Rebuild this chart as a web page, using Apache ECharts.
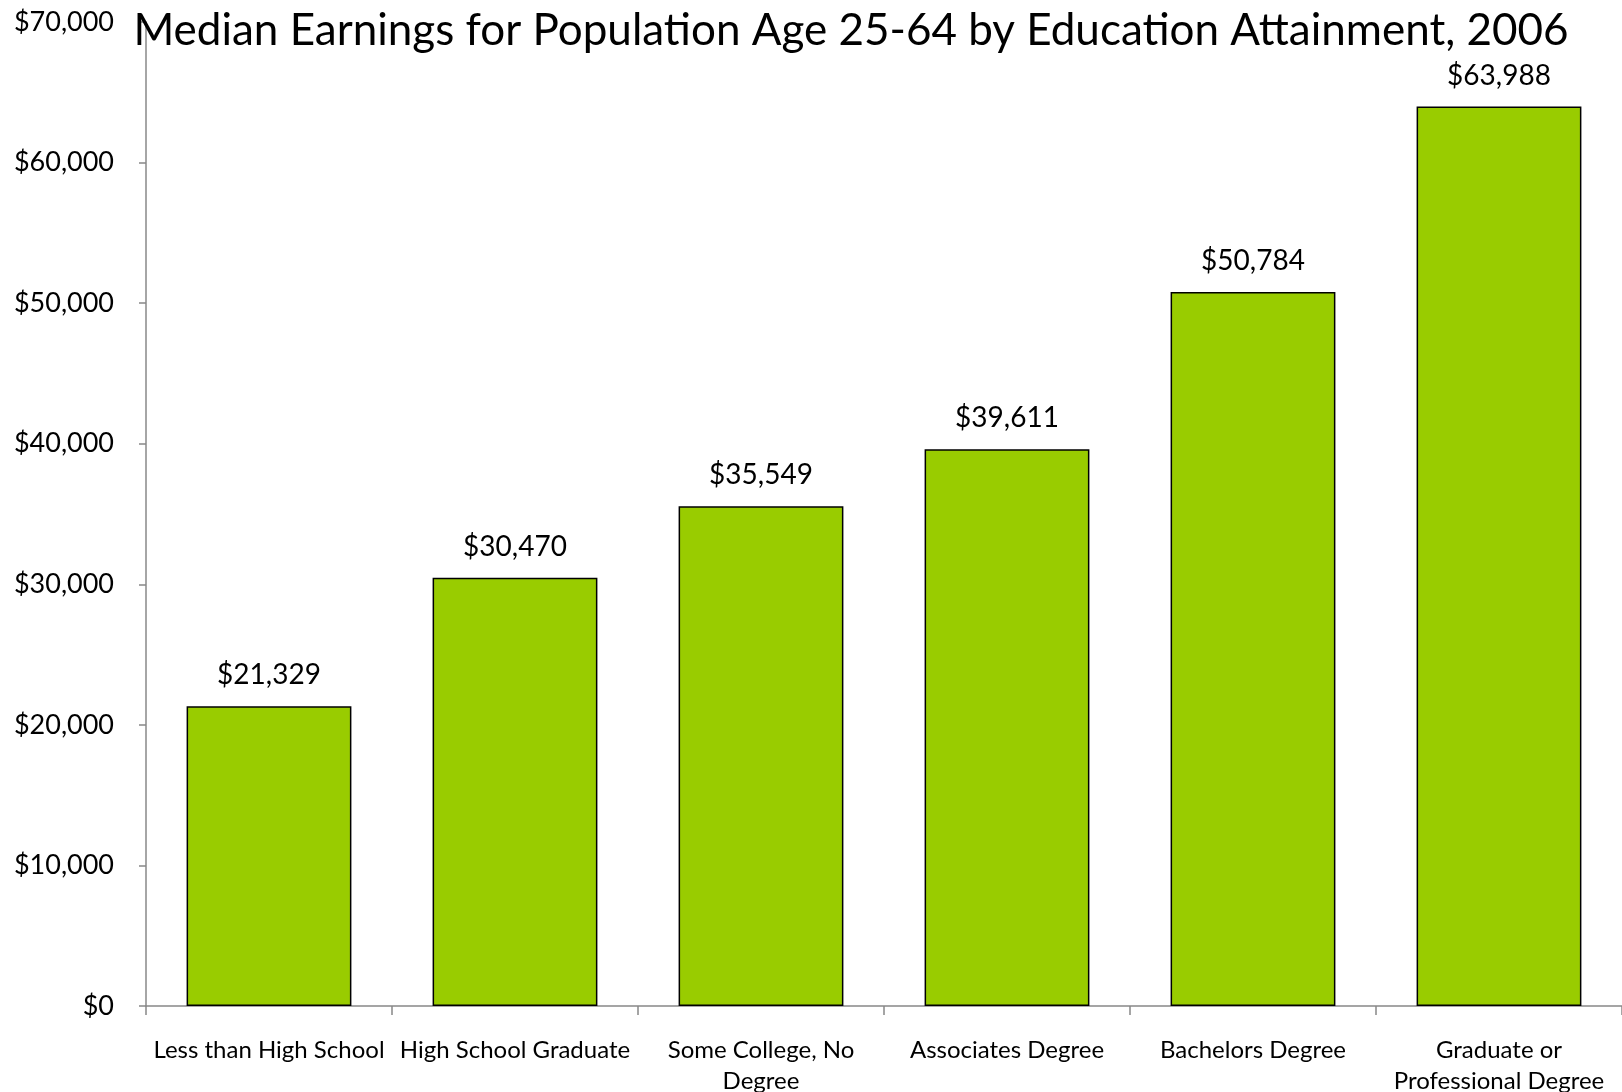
<!DOCTYPE html>
<html>
<head>
<meta charset="utf-8">
<script src="https://cdn.jsdelivr.net/npm/echarts@6/dist/echarts.min.js"></script>
<style>
html,body{margin:0;padding:0;background:#fff;}
#chart{width:1622px;height:1092px;}
</style>
</head>
<body>
<div id="chart"></div>
<script>
const titleText = 'Median Earnings for Population Age 25-64 by Education Attainment, 2006';
const categories = ['Less than High School', 'High School Graduate', 'Some College, No\nDegree', 'Associates Degree', 'Bachelors Degree', 'Graduate or\nProfessional Degree'];
const earnings = [21329, 30470, 35549, 39611, 50784, 63988];
const yTicks = [0, 10000, 20000, 30000, 40000, 50000, 60000, 70000];

const fmt = v => '$' + Number(v).toLocaleString('en-US');
const FONT = 'Lato, "Open Sans", sans-serif';

const chart = echarts.init(document.getElementById('chart'));
chart.setOption({
  animation: false,
  backgroundColor: '#ffffff',
  title: {
    text: titleText,
    left: 846,
    textAlign: 'center',
    top: 4,
    textStyle: { fontFamily: FONT, fontSize: 44, fontWeight: 'normal', color: '#000' }
  },
  grid: { left: 146, right: 0, top: 22, bottom: 86, containLabel: false, outerBoundsMode: 'none' },
  xAxis: {
    type: 'category',
    data: categories,
    axisLine: { lineStyle: { color: '#888888', width: 1.5 } },
    axisTick: { show: true, length: 9, lineStyle: { color: '#888888', width: 1.5 } },
    axisLabel: { fontFamily: FONT, fontSize: 24, color: '#000', margin: 29, lineHeight: 31, interval: 0 }
  },
  yAxis: {
    type: 'value',
    min: yTicks[0],
    max: yTicks[yTicks.length - 1],
    interval: yTicks[1] - yTicks[0],
    splitLine: { show: false },
    axisLine: { show: true, lineStyle: { color: '#888888', width: 1.5 } },
    axisTick: { show: true, length: 7, lineStyle: { color: '#888888', width: 1.5 } },
    axisLabel: { fontFamily: FONT, fontSize: 27, color: '#000', margin: 32, formatter: fmt }
  },
  series: [{
    type: 'bar',
    data: earnings,
    barCategoryGap: '33%',
    itemStyle: { color: '#99CC00', borderColor: '#000000', borderWidth: 1.5 },
    label: {
      show: true,
      position: 'top',
      distance: 17,
      fontFamily: FONT,
      fontSize: 28,
      color: '#000',
      formatter: p => fmt(p.value)
    }
  }]
});
</script>
</body>
</html>
